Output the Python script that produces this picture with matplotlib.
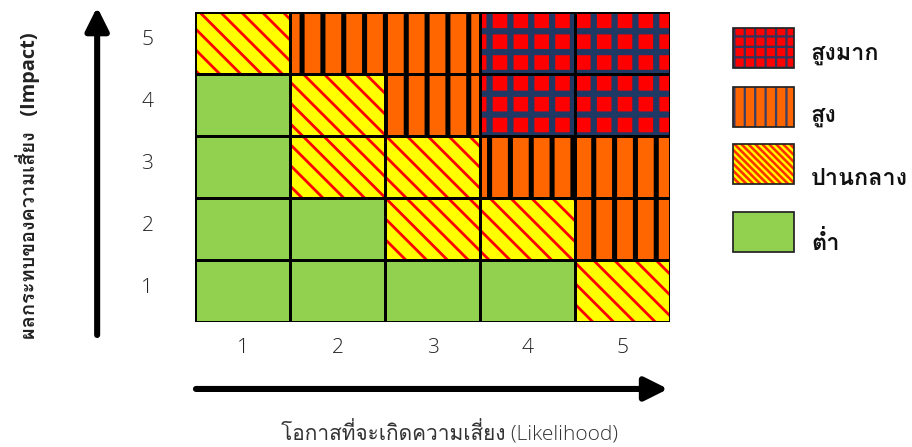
import matplotlib
matplotlib.use("Agg")
import matplotlib.pyplot as plt
from matplotlib.patches import Rectangle
from matplotlib.transforms import ScaledTranslation

# ---- data ----
likelihood_labels = ["1", "2", "3", "4", "5"]
impact_labels = ["1", "2", "3", "4", "5"]
# risk level per cell, rows = impact 1..5 (bottom to top), cols = likelihood 1..5
# 0 = low, 1 = medium, 2 = high, 3 = very high
risk_levels = [
    [0, 0, 0, 0, 1],
    [0, 0, 1, 1, 2],
    [0, 1, 1, 2, 2],
    [0, 1, 2, 3, 3],
    [1, 2, 2, 3, 3],
]
level_names = ["ต่ำ", "ปานกลาง", "สูง", "สูงมาก"]
x_title = "โอกาสที่จะเกิดความเสี่ยง (Likelihood)"
y_title = "ผลกระทบของความเสี่ยง   (Impact)"

# fill, hatch colour, hatch, hatch width for each level
styles = {
    0: ("#92D050", "#92D050", "", 0.0),
    1: ("#FFFF00", "#FF0000", "\\\\", 1.6),
    2: ("#FF6600", "#000000", "|", 2.9),
    3: ("#FF0000", "#1F3864", "+", 3.6),
}
legend_styles = {
    0: ("#92D050", "#92D050", "", 0.0),
    1: ("#FFFF00", "#FF3000", "\\" * 6, 1.5),
    2: ("#FF6600", "#3B3F66", "||", 1.3),
    3: ("#FF0000", "#33335C", "++", 1.3),
}

# Latin glyphs from Open Sans, Thai glyphs from Loma (tone marks sit high unshaped)
plt.rcParams["font.family"] = ["Open Sans", "Loma", "IBM Plex Sans Thai Looped", "DejaVu Sans"]


def hatched(ax, xy, w, h, style):
    face, hcol, hatch, hlw = style
    plt.rcParams["hatch.linewidth"] = max(hlw, 0.1)
    p = Rectangle(xy, w, h, facecolor=face, edgecolor=hcol, hatch=hatch or None,
                  linewidth=0)
    try:
        p.set_hatch_linewidth(max(hlw, 0.1))
    except AttributeError:
        pass
    ax.add_patch(p)
    return p


fig = plt.figure(figsize=(7.296, 3.576), dpi=125)
ax = fig.add_axes([195 / 912, 125 / 447, 475 / 912, 310 / 447])
ax.set_xlim(0, 5)
ax.set_ylim(0, 5)

for r, row in enumerate(risk_levels):
    for c, lev in enumerate(row):
        hatched(ax, (c, r), 1, 1, styles[lev])
        ax.add_patch(Rectangle((c, r), 1, 1, fill=False, edgecolor="black",
                               linewidth=1.7, zorder=3))

for s in ax.spines.values():
    s.set_visible(False)
ax.set_xticks([i + 0.5 for i in range(len(likelihood_labels))], likelihood_labels)
ax.set_yticks([i + 0.5 for i in range(len(impact_labels))], impact_labels)
ax.tick_params(axis="both", length=0, labelsize=12, labelcolor="#222222")
ax.tick_params(axis="x", pad=9)
ax.tick_params(axis="y", pad=24)
for lab in ax.get_xticklabels() + ax.get_yticklabels():
    lab.set_fontweight(300)
for lab in ax.get_yticklabels():
    lab.set_transform(lab.get_transform() + ScaledTranslation(0, 3 / 72, fig.dpi_scale_trans))

# axis arrows
arrow = dict(arrowstyle="-|>", color="black", lw=3.5, mutation_scale=28,
             shrinkA=0, shrinkB=0)
ax.annotate("", xy=(-0.206, 1.016), xytext=(-0.206, -0.042),
            xycoords="axes fraction", textcoords="axes fraction",
            arrowprops=arrow, annotation_clip=False)
ax.annotate("", xy=(0.996, -0.216), xytext=(0.002, -0.216),
            xycoords="axes fraction", textcoords="axes fraction",
            arrowprops=arrow, annotation_clip=False)

ax.text(0.535, -0.36, x_title, transform=ax.transAxes, ha="center", va="center",
        fontsize=12, fontweight=300, color="#333333")
ax.text(-0.352, 0.44, y_title, transform=ax.transAxes, ha="center", va="center",
        rotation=90, fontsize=11.5, fontweight="bold", color="#222222")

# legend drawn in pixel-like coordinates
lax = fig.add_axes([720 / 912, 0, 192 / 912, 1])
lax.set_xlim(720, 912)
lax.set_ylim(447, 0)
lax.axis("off")
legend_boxes = [(3, 28), (2, 87), (1, 144), (0, 212)]
legend_text_y = [54, 116, 179, 244]
for (lev, top), ty in zip(legend_boxes, legend_text_y):
    hatched(lax, (733, top), 61, 40, legend_styles[lev])
    lax.add_patch(Rectangle((733, top), 61, 40, fill=False, edgecolor="#222222",
                            linewidth=1.0, zorder=3))
    lax.text(811, ty, level_names[lev], ha="left", va="center", fontsize=13.5,
             fontweight="bold", color="#111111")

fig.savefig("out.png", dpi=125)
